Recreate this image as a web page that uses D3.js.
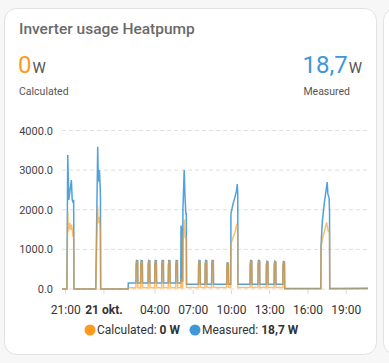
<!DOCTYPE html>
<html>
<head>
<meta charset="utf-8">
<script src="https://cdn.jsdelivr.net/npm/d3@7"></script>
<style>
  body { margin: 0; background: #f7f7f7; font-family: Roboto, "Noto Sans", sans-serif; }
  svg { display: block; }
</style>
</head>
<body>
<div id="card"></div>
<script>
// measured power (W), "HH:MM" from 20:45 on 20 okt. to 20:45 on 21 okt.
const measured = [
  ["20:45",0],["21:08",0],["21:12",3380],["21:17",2250],["21:29",2750],["21:33",2250],["21:38",2170],["21:40",2250],["21:41",0],
  ["23:24",0],["23:33",3590],["23:36",2710],["23:41",3000],["23:45",2550],["23:46",2300],["23:47",0],
  ["01:56",0],["01:57",150],
  ["02:33",150],["02:34",620],["02:36",720],["02:41",710],["02:42",150],
  ["02:55",150],["02:56",620],["02:58",720],["03:03",710],["03:04",150],
  ["03:30",150],["03:31",620],["03:33",720],["03:38",710],["03:39",150],
  ["04:01",150],["04:02",620],["04:04",720],["04:09",710],["04:10",150],
  ["04:34",150],["04:35",620],["04:37",720],["04:42",710],["04:43",150],
  ["05:05",150],["05:06",620],["05:08",720],["05:13",710],["05:14",150],
  ["05:40",150],["05:41",620],["05:43",720],["05:48",710],["05:49",150],
  ["06:04",150],["06:05",1600],["06:08",1500],["06:09",200],["06:13",200],["06:14",2000],["06:20",3000],["06:24",2300],["06:28",1900],["06:30",1900],["06:31",120],
  ["07:27",120],["07:28",620],["07:30",720],["07:35",710],["07:36",120],
  ["07:58",120],["07:59",620],["08:01",720],["08:06",710],["08:07",120],
  ["08:29",120],["08:30",620],["08:32",720],["08:37",710],["08:38",120],
  ["09:40",120],["09:41",580],["09:43",660],["09:48",650],["09:49",120],
  ["09:59",120],["10:00",1900],["10:10",2150],["10:18",2300],["10:25",2450],["10:30",2650],["10:32",2400],["10:33",120],
  ["11:30",120],["11:31",620],["11:33",720],["11:38",710],["11:39",120],
  ["12:07",120],["12:08",620],["12:10",720],["12:15",710],["12:16",120],
  ["12:46",120],["12:47",610],["12:49",700],["12:54",690],["12:55",120],
  ["13:23",120],["13:24",610],["13:26",700],["13:31",690],["13:32",120],
  ["14:04",120],["14:05",600],["14:07",690],["14:12",680],["14:13",10],
  ["17:03",10],["17:04",1100],["17:10",1700],["17:20",2200],["17:28",2500],["17:33",2700],["17:36",2400],["17:42",2300],["17:44",1950],["17:45",10],
  ["20:45",19]
];
// calculated power (W)
const calculated = [
  ["20:45",0],["21:08",0],["21:12",1950],["21:15",1450],["21:21",1670],["21:26",1490],["21:30",1620],["21:36",1360],["21:40",1400],["21:41",0],
  ["23:24",0],["23:32",2100],["23:36",1660],["23:41",1825],["23:45",1490],["23:47",0],
  ["01:56",0],["01:57",30],
  ["02:33",30],["02:34",600],["02:36",700],["02:41",690],["02:42",30],
  ["02:55",30],["02:56",600],["02:58",700],["03:03",690],["03:04",30],
  ["03:30",30],["03:31",600],["03:33",700],["03:38",690],["03:39",30],
  ["04:01",30],["04:02",600],["04:04",700],["04:09",690],["04:10",30],
  ["04:34",30],["04:35",600],["04:37",700],["04:42",690],["04:43",30],
  ["05:05",30],["05:06",600],["05:08",700],["05:13",690],["05:14",30],
  ["05:40",30],["05:41",600],["05:43",700],["05:48",690],["05:49",30],
  ["06:04",30],["06:05",250],["06:08",200],["06:09",30],["06:13",30],["06:14",1200],["06:20",1750],["06:24",1300],["06:30",1300],["06:31",40],
  ["07:27",40],["07:28",600],["07:30",700],["07:35",690],["07:36",40],
  ["07:58",40],["07:59",600],["08:01",700],["08:06",690],["08:07",40],
  ["08:29",40],["08:30",600],["08:32",700],["08:37",690],["08:38",40],
  ["09:40",40],["09:41",560],["09:43",640],["09:48",630],["09:49",40],
  ["09:59",40],["10:00",1150],["10:10",1300],["10:20",1450],["10:28",1650],["10:30",1570],["10:32",1500],["10:33",40],
  ["11:30",40],["11:31",600],["11:33",700],["11:38",690],["11:39",40],
  ["12:07",40],["12:08",600],["12:10",700],["12:15",690],["12:16",40],
  ["12:46",40],["12:47",590],["12:49",680],["12:54",670],["12:55",40],
  ["13:23",40],["13:24",590],["13:26",680],["13:31",670],["13:32",40],
  ["14:04",40],["14:05",580],["14:07",670],["14:12",660],["14:13",0],
  ["17:03",0],["17:04",1050],["17:12",1300],["17:22",1500],["17:30",1680],["17:33",1600],["17:38",1450],["17:44",1450],["17:45",0],
  ["20:45",0]
];
const yTicks = [0, 1000, 2000, 3000, 4000];
const xTickTimes = ["21:00", "00:00", "04:00", "07:00", "10:00", "13:00", "16:00", "19:00"];
const xTickLabels = ["21:00", "21 okt.", "04:00", "07:00", "10:00", "13:00", "16:00", "19:00"];

const W = 389, H = 363;
const orange = "#ff9a1f", blue = "#3d97d8";

// "HH:MM" strings wrap past midnight once
const day0 = new Date(2023, 9, 20);
function toDates(list) {
  let prev = -1, offset = 0;
  return list.map(function(p) {
    const [hh, mm] = p[0].split(":").map(Number);
    let m = hh * 60 + mm;
    if (m < prev) offset = 1440;
    prev = m;
    return { t: new Date(day0.getTime() + (m + offset) * 60000), v: p[1] };
  });
}
let measuredD = toDates(measured);
let calculatedD = toDates(calculated);
// last point of each list is the end of the window (next day)
[measuredD, calculatedD].forEach(function(a) {
  a[a.length - 1].t = new Date(day0.getTime() + (1440 + 20 * 60 + 45) * 60000);
});
let tickD = toDates(xTickTimes.map(s => [s, 0])).map(d => d.t);

var svg = d3.select("#card").append("svg").attr("width", W).attr("height", H);

svg.append("rect").attr("x", 383.5).attr("y", 8.5).attr("width", 40).attr("height", 346)
  .attr("rx", 12).attr("fill", "#fff").attr("stroke", "#e2e2e2");
svg.append("rect").attr("x", 4.5).attr("y", 8.5).attr("width", 372).attr("height", 346)
  .attr("rx", 12).attr("fill", "#fff").attr("stroke", "#e2e2e2");

svg.append("text").attr("x", 19).attr("y", 34).attr("font-size", 15.5).attr("font-weight", 500)
  .attr("fill", "#6a6a6a").text("Inverter usage Heatpump");

// header values
var left = svg.append("text").attr("x", 18).attr("y", 73);
left.append("tspan").attr("font-size", 24).attr("fill", orange).text("0");
left.append("tspan").attr("font-size", 15).attr("fill", "#555").attr("dx", 1).text("W");
svg.append("text").attr("x", 19).attr("y", 95).attr("font-size", 10.5).attr("fill", "#555").text("Calculated");

var right = svg.append("text").attr("x", 362).attr("y", 73).attr("text-anchor", "end");
right.append("tspan").attr("font-size", 24).attr("fill", blue).text("18,7");
right.append("tspan").attr("font-size", 15).attr("fill", "#555").attr("dx", 1).text("W");
svg.append("text").attr("x", 350).attr("y", 95).attr("text-anchor", "end").attr("font-size", 10.5)
  .attr("fill", "#555").text("Measured");

// scales
var x = d3.scaleTime()
  .domain([new Date(day0.getTime() + (20 * 60 + 45) * 60000), new Date(day0.getTime() + (1440 + 20 * 60 + 45) * 60000)])
  .range([62, 368]);
var y = d3.scaleLinear().domain([0, 4000]).range([289, 130.5]);

// grid
svg.append("g").selectAll("line").data(yTicks).join("line")
  .attr("x1", 62).attr("x2", 368)
  .attr("y1", d => y(d)).attr("y2", d => y(d))
  .attr("stroke", "#dedede").attr("stroke-dasharray", "4,3");

var yAxis = svg.append("g").attr("transform", "translate(53,0)")
  .call(d3.axisLeft(y).tickValues(yTicks).tickSize(0).tickPadding(0).tickFormat(d3.format(".1f")));
yAxis.select(".domain").remove();
yAxis.selectAll("text").attr("font-family", "Roboto").attr("font-size", 11).attr("fill", "#444");

var xAxis = svg.append("g").attr("transform", "translate(0,290)")
  .call(d3.axisBottom(x).tickValues(tickD).tickSize(4).tickPadding(11)
    .tickFormat((d, i) => xTickLabels[i]));
xAxis.select(".domain").remove();
xAxis.selectAll("line").attr("stroke", "#d8d8d8");
xAxis.selectAll("text").attr("font-family", "Roboto").attr("font-size", 12).attr("fill", "#333")
  .attr("font-weight", (d, i) => i === 1 ? "bold" : null);

// lines
var line = d3.line().x(d => x(d.t)).y(d => y(d.v));
svg.append("path").attr("d", line(measuredD)).attr("fill", "none")
  .attr("stroke", blue).attr("stroke-width", 1.5).attr("stroke-opacity", 0.9);
svg.append("path").attr("d", line(calculatedD)).attr("fill", "none")
  .attr("stroke", orange).attr("stroke-width", 1.5).attr("stroke-opacity", 0.65);

// legend
var legend = [
  { c: orange, name: "Calculated: ", val: "0 W", x: 90 },
  { c: blue, name: "Measured: ", val: "18,7 W", x: 195 }
];
var lg = svg.append("g").selectAll("g").data(legend).join("g");
lg.append("circle").attr("cx", d => d.x).attr("cy", 330).attr("r", 5.5).attr("fill", d => d.c);
var lt = lg.append("text").attr("x", d => d.x + 7).attr("y", 334).attr("font-size", 12).attr("fill", "#333");
lt.append("tspan").text(d => d.name);
lt.append("tspan").attr("font-weight", "bold").text(d => d.val);
</script>
</body>
</html>
